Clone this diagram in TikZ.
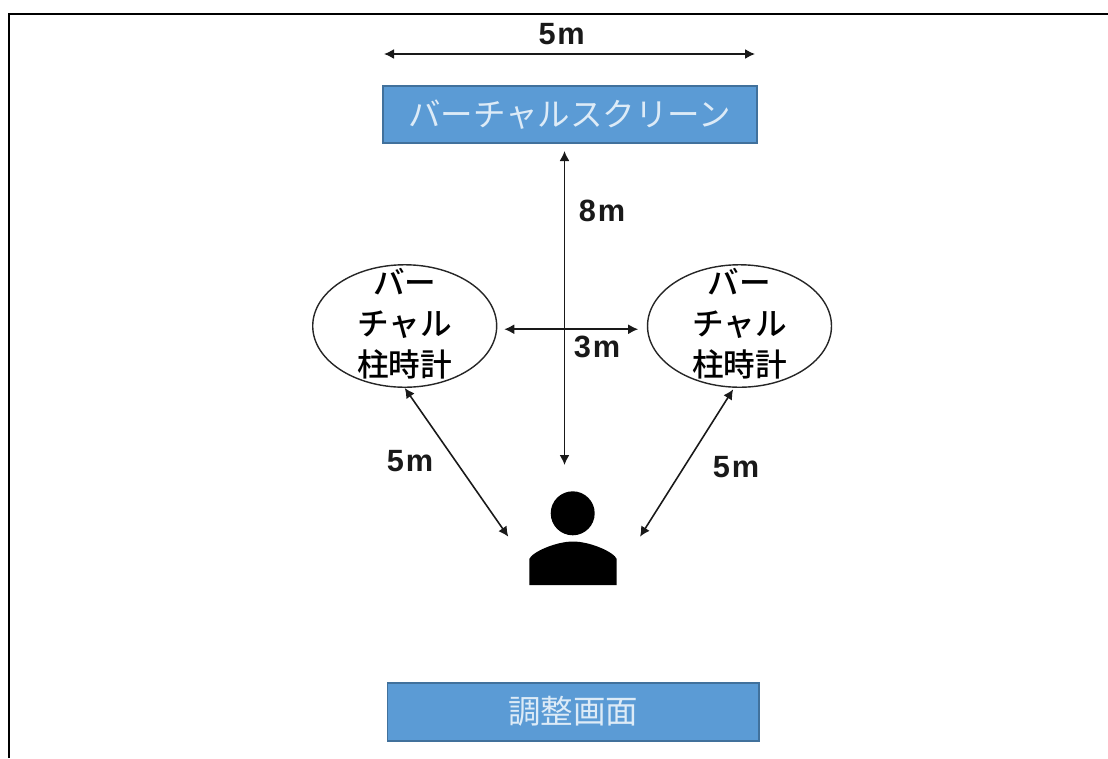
\documentclass[tikz,border=0pt]{standalone}
\usepackage{fontspec}
\setmainfont{Noto Sans CJK JP}
\newfontfamily\clockfont{Noto Sans CJK JP Medium}
\newfontfamily\numfont[LetterSpace=6]{Liberation Sans Bold}
\usetikzlibrary{shapes.geometric,arrows.meta}
\definecolor{screenblue}{HTML}{5B9BD5}
\definecolor{screenedge}{HTML}{41719C}
\definecolor{screentext}{HTML}{DDEBF7}
\tikzset{
	screenbox/.style={draw=screenedge,fill=screenblue,line width=1pt,text=screentext,inner sep=0pt,font=\fontsize{18.5}{22}\selectfont},
	clocknode/.style={draw=black!85,ellipse,line width=0.8pt,minimum width=3.68cm,minimum height=2.45cm,inner sep=0pt,
		label={[align=center,inner sep=0pt,yshift=1.2pt,font=\clockfont\fontsize{18}{23.3}\selectfont]center:バー\\チャル\\柱時計}},
	dimline/.style={{Latex[length=2mm,width=2mm]}-{Latex[length=2mm,width=2mm]},line width=0.9pt,black!90},
	dimlabel/.style={font=\numfont\fontsize{17.5}{20}\selectfont,inner sep=0pt,black!90}
}
\begin{document}
\begin{tikzpicture}[x=0.02cm,y=-0.02cm]
\useasboundingbox (0,0) rectangle (1108,758);
\coordinate[] (FL) at (9,758);
\coordinate[] (FC) at (9,14);
\coordinate[] (FR) at (1108,14);
\draw [line width=1.6pt] (FL) -- (FC) -- (FR);
\node[screenbox,minimum width=7.48cm,minimum height=1.14cm] (screen) at (569.7,114.6) {バーチャルスクリーン};
\node[screenbox,minimum width=7.43cm,minimum height=1.16cm] (adjust) at (573.2,711.7) {調整画面};
\node[clocknode] (clockL) at (404.7,326) {};
\node[clocknode] (clockR) at (739.5,326) {};
\node[circle,fill=black,minimum size=0.88cm,inner sep=0pt] (head) at (572.7,513.3) {};
\fill[black] (529.3,585) -- (529.3,559) .. controls (532,552) and (556,541.5) .. (573,541.5) .. controls (590,541.5) and (614,552) .. (616.7,559) -- (616.7,585) -- cycle;
\coordinate[] (WL) at (384,54);
\coordinate[] (WR) at (755,54);
\coordinate[] (V) at (564.5,465);
\coordinate[] (PL) at (508.3,536.7);
\coordinate[] (PR) at (640,536.7);
\draw [dimline] (WL) -- (WR);
\draw [dimline,shorten <=4pt] (screen.south -| V) -- (V);
\draw [dimline,shorten <=4pt,shorten >=5pt] (clockL.358) -- (clockR.182);
\draw [dimline] (clockL.south) -- (PL);
\draw [dimline,shorten <=1pt] (clockR.265) -- (PR);
\node[dimlabel] (topw) at (561.7,34) {5m};
\node[dimlabel] (depth) at (602,211) {8m};
\node[dimlabel] (gap) at (597,347) {3m};
\node[dimlabel] (distL) at (410,461) {5m};
\node[dimlabel] (distR) at (736,467) {5m};
\end{tikzpicture}
\end{document}
